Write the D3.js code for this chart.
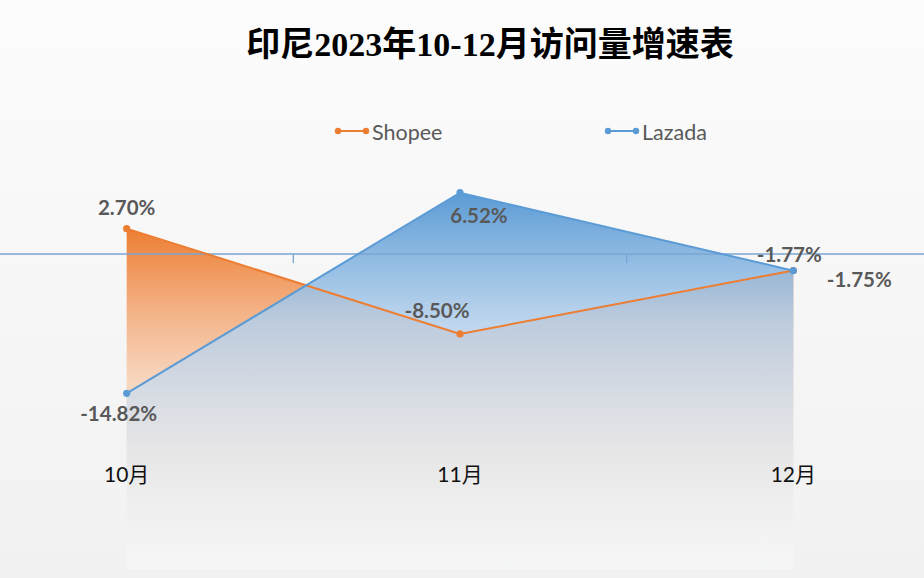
<!DOCTYPE html>
<html>
<head>
<meta charset="utf-8">
<script src="https://cdn.jsdelivr.net/npm/d3@7"></script>
<style>
  html, body { margin: 0; padding: 0; background: #f6f6f6; }
  svg { display: block; }
</style>
</head>
<body>
<svg width="924" height="578"></svg>
<script>
// data
var months = ['10月', '11月', '12月'];
var seriesNames = ['Shopee', 'Lazada'];
var shopee = [2.70, -8.50, -1.75];
var lazada = [-14.82, 6.52, -1.77];

var colors = {Shopee: '#ED7D31', Lazada: '#5B9BD5'};

// where each data label sits relative to its point (px)
var shopeeLabelPos = [[0, -22], [-23, -24], [66, 9]];
var lazadaLabelPos = [[-8, 20], [19, 22], [-4, -17]];

var width = 924, height = 578;
var svg = d3.select('svg');

var defs = svg.append('defs');

// faint page shading, lighter at the top
var bg = defs.append('linearGradient').attr('id', 'bg')
  .attr('x1', 0).attr('x2', 0).attr('y1', 0).attr('y2', 1);
bg.append('stop').attr('offset', '0%').attr('stop-color', '#fcfcfc');
bg.append('stop').attr('offset', '100%').attr('stop-color', '#f1f1f1');
svg.append('rect').attr('width', width).attr('height', height).attr('fill', 'url(#bg)');

// band scale so the ticks fall between months like excel
var x = d3.scaleBand().domain(months).range([-40, 960]).padding(0);
var xc = function(m) { return x(m) + x.bandwidth() / 2; };
var y = d3.scaleLinear().domain([-33.5, 10]).range([569, 160]);

// gradients for the areas
var og = defs.append('linearGradient').attr('id', 'gradShopee')
  .attr('gradientUnits', 'userSpaceOnUse')
  .attr('x1', 0).attr('x2', 0).attr('y1', y(d3.max(shopee))).attr('y2', y(-33.5));
og.append('stop').attr('offset', '0%').attr('stop-color', '#ED7D31').attr('stop-opacity', 1);
og.append('stop').attr('offset', '45%').attr('stop-color', '#F8CBAD').attr('stop-opacity', 0.75);
og.append('stop').attr('offset', '100%').attr('stop-color', '#fdf1e8').attr('stop-opacity', 0);

var bgr = defs.append('linearGradient').attr('id', 'gradLazada')
  .attr('gradientUnits', 'userSpaceOnUse')
  .attr('x1', 0).attr('x2', 0).attr('y1', y(d3.max(lazada))).attr('y2', y(-33.5));
bgr.append('stop').attr('offset', '0%').attr('stop-color', '#5B9BD5').attr('stop-opacity', 1);
bgr.append('stop').attr('offset', '35%').attr('stop-color', '#B4D0EC').attr('stop-opacity', 0.85);
bgr.append('stop').attr('offset', '70%').attr('stop-color', '#e2e6ec').attr('stop-opacity', 0.7);
bgr.append('stop').attr('offset', '100%').attr('stop-color', '#f8f9fa').attr('stop-opacity', 0.6);

var area = d3.area()
  .x(function(d, i) { return xc(months[i]); })
  .y0(y(-33.5))
  .y1(function(d) { return y(d); });

var line = d3.line()
  .x(function(d, i) { return xc(months[i]); })
  .y(function(d) { return y(d); });

svg.append('path').datum(shopee).attr('d', area).attr('fill', 'url(#gradShopee)');
svg.append('path').datum(lazada).attr('d', area).attr('fill', 'url(#gradLazada)');

// zero axis line with ticks between the months
svg.append('line')
  .attr('x1', 0).attr('x2', width)
  .attr('y1', y(0)).attr('y2', y(0))
  .attr('stroke', '#7aa6d2').attr('stroke-width', 1.3);
svg.selectAll('.tick').data(months.slice(1)).enter().append('line')
  .attr('class', 'tick')
  .attr('x1', function(d) { return x(d); }).attr('x2', function(d) { return x(d); })
  .attr('y1', y(0)).attr('y2', y(0) + 9)
  .attr('stroke', '#7aa6d2').attr('stroke-width', 1.3);

var series = [
  {name: 'Shopee', values: shopee, pos: shopeeLabelPos},
  {name: 'Lazada', values: lazada, pos: lazadaLabelPos}
];

series.forEach(function(s) {
  svg.append('path').datum(s.values).attr('d', line)
    .attr('fill', 'none').attr('stroke', colors[s.name]).attr('stroke-width', 2);
  svg.selectAll('.dot-' + s.name).data(s.values).enter().append('circle')
    .attr('cx', function(d, i) { return xc(months[i]); })
    .attr('cy', function(d) { return y(d); })
    .attr('r', 3.6)
    .attr('fill', colors[s.name]);
});

series.forEach(function(s) {
  svg.selectAll('.lbl-' + s.name).data(s.values).enter().append('text')
    .attr('x', function(d, i) { return xc(months[i]) + s.pos[i][0]; })
    .attr('y', function(d, i) { return y(d) + s.pos[i][1]; })
    .attr('text-anchor', 'middle')
    .attr('dominant-baseline', 'central')
    .attr('font-family', 'Lato, "Noto Sans", sans-serif')
    .attr('font-weight', 'bold')
    .attr('font-size', 20.5)
    .attr('fill', '#595959')
    .text(function(d) { return d.toFixed(2) + '%'; });
});

// month labels near the bottom
svg.selectAll('.month').data(months).enter().append('text')
  .attr('x', function(d) { return xc(d); })
  .attr('y', 473)
  .attr('text-anchor', 'middle')
  .attr('dominant-baseline', 'central')
  .attr('font-family', 'Lato, "Noto Sans CJK SC", sans-serif')
  .attr('font-size', 21)
  .attr('fill', '#111')
  .text(function(d) { return d; });

// legend
var legendX = [338, 608];
var legend = svg.selectAll('.legend').data(seriesNames).enter().append('g')
  .attr('transform', function(d, i) { return 'translate(' + legendX[i] + ',131)'; });
legend.append('line').attr('x1', 0).attr('x2', 28)
  .attr('stroke', function(d) { return colors[d]; }).attr('stroke-width', 2);
legend.append('circle').attr('cx', 0).attr('r', 3.2).attr('fill', function(d) { return colors[d]; });
legend.append('circle').attr('cx', 28).attr('r', 3.2).attr('fill', function(d) { return colors[d]; });
legend.append('text').attr('x', 34).attr('y', 1)
  .attr('dominant-baseline', 'central')
  .attr('font-family', 'Lato, "Noto Sans", sans-serif')
  .attr('font-size', 21.5)
  .attr('fill', '#595959')
  .text(function(d) { return d; });

// title
svg.append('text')
  .attr('x', 490).attr('y', 44)
  .attr('text-anchor', 'middle')
  .attr('dominant-baseline', 'central')
  .attr('font-family', '"Liberation Serif", "Noto Sans CJK SC", serif')
  .attr('font-weight', 'bold')
  .attr('font-size', 34)
  .attr('fill', '#000')
  .text('印尼2023年10-12月访问量增速表');
</script>
</body>
</html>
